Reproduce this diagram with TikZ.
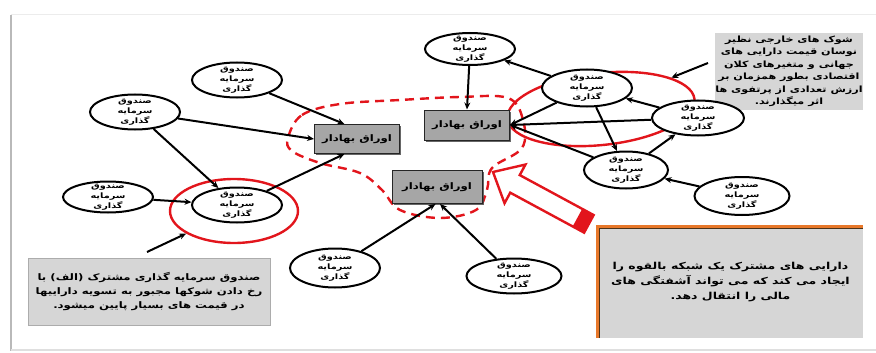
\documentclass[tikz,border=0pt]{standalone}
\usepackage{fontspec}
\usepackage{tikz}
\usetikzlibrary{arrows.meta,shapes.geometric,shadows}
\newfontfamily\fafont[Script=Arabic,FakeStretch=1.3]{DejaVu Sans}
\TeXXeTstate=1
\newcommand{\fa}[1]{\beginR #1\endR}
\newcommand{\fundtext}{\fa{صندوق}\\\fa{سرمایه}\\\fa{گذاری}}
\definecolor{ringred}{HTML}{E2151C}
\definecolor{notegray}{HTML}{D6D6D6}
\definecolor{edgeorange}{HTML}{E8782A}

\begin{document}
\begin{tikzpicture}
[x=1pt, y=-1pt,
 fund/.style={ellipse, draw, line width=2pt, fill=white, minimum width=90pt, minimum height=35pt, inner xsep=0pt, inner ysep=-4pt, align=center, font=\fafont\bfseries\fontsize{7.5}{10}\selectfont},
 sec/.style={rectangle, draw=black!85, line width=1pt, top color=gray!70, middle color=gray!40, bottom color=gray!70, minimum width=85pt, minimum height=29pt, font=\fafont\bfseries\fontsize{9}{10}\selectfont, drop shadow={shadow xshift=1.5pt, shadow yshift=-1.5pt, fill=black!75, opacity=.8}},
 ring/.style={ellipse, draw=ringred, line width=2.4pt, inner sep=0pt},
 note/.style={rectangle, fill=notegray, align=center, inner sep=0pt},
 link/.style={line width=2pt, -{Stealth[length=7pt,width=6pt]}}]

\useasboundingbox (0,0) rectangle (876,353);
\draw[gray!15, line width=1pt] (11,15) -- (876,15);
\draw[gray!55, line width=2pt] (11,15) -- (11,351);
\draw[gray!25, line width=1.5pt] (11,350) -- (876,350);

% red marks
\draw[ringred, line width=2.4pt, dash pattern=on 9pt off 6pt] plot[smooth cycle, tension=0.6] coordinates {(288,138) (302,115) (340,104) (400,100) (460,97) (508,98) (523,120) (522,148) (492,168) (487,190) (476,210) (440,218) (400,210) (382,190) (360,173) (320,163) (292,151)};
\node[ring, minimum width=128pt, minimum height=64pt] (ring1) at (234,211) {};
\node[ring, minimum width=188pt, minimum height=72pt, rotate=6] (ring2) at (601,109) {};
\begin{scope}[shift={(493,172)}, rotate=-28.4]
\draw[ringred, line width=2.4pt, fill=white, line join=miter] (0,0) -- (25,22) -- (25,10) -- (109,10) -- (109,-10) -- (25,-10) -- (25,-22) -- cycle;
\fill[ringred] (96,-10) rectangle (109,10);
\end{scope}

% notes
\node[note, minimum width=148pt, minimum height=77pt, font=\fafont\bfseries\fontsize{8.6}{12.5}\selectfont] (n1) at (789,71.5)
 {\fa{شوک های خارجی نظیر}\\\fa{نوسان قیمت دارایی های}\\\fa{جهانی و متغیرهای کلان}\\\fa{اقتصادی بطور همزمان بر}\\\fa{ارزش تعدادی از پرتفوی ها}\\\fa{اثر میگذارند.}};
\node[note, draw=gray!65, line width=1pt, minimum width=242pt, minimum height=67pt, font=\fafont\bfseries\fontsize{9}{14}\selectfont] (n2) at (149,291.5)
 {\fa{صندوق سرمایه گذاری مشترک (الف) با}\\\fa{رخ دادن شوکها مجبور به تسویه داراییها}\\\fa{در قیمت های بسیار پایین میشود.}};
\node[note, minimum width=265pt, minimum height=111pt, font=\fafont\bfseries\fontsize{9.6}{15}\selectfont] (n3) at (730.5,282.5)
 {\fa{دارایی های مشترک یک شبکه بالقوه را}\\\fa{ایجاد می کند که می تواند آشفتگی های}\\\fa{مالی را انتقال دهد.}};
\draw[edgeorange, line width=3pt] (n3.south west) -- (n3.north west) -- (n3.north east);
\draw[black!60!brown, line width=0.7pt] ([xshift=2pt]n3.south west) -- ([xshift=2pt,yshift=-2pt]n3.north west) -- ([yshift=-2pt]n3.north east);

% funds
\node[fund] (e1) at (135,112) {\fundtext};
\node[fund] (e2) at (237,80) {\fundtext};
\node[fund, minimum height=31pt] (e3) at (108,197) {\fundtext};
\node[fund] (e4) at (237,205) {\fundtext};
\node[fund, minimum height=32pt] (e5) at (470,49) {\fundtext};
\node[fund, minimum height=37pt] (e6) at (587,88) {\fundtext};
\node[fund, minimum width=92pt] (e7) at (698,118) {\fundtext};
\node[fund, minimum width=84pt, minimum height=37pt] (e8) at (626,170) {\fundtext};
\node[fund, minimum width=95pt, minimum height=38pt] (e9) at (742,196) {\fundtext};
\node[fund, minimum height=39pt] (e10) at (335,268) {\fundtext};
\node[fund, minimum width=95pt] (e11) at (514,276) {\fundtext};

% securities
\node[sec] (b1) at (357,139) {\fa{اوراق بهادار}};
\node[sec, minimum height=30pt] (b2) at (467,125) {\fa{اوراق بهادار}};
\node[sec, minimum width=90pt, minimum height=33pt] (b3) at (437,187) {\fa{اوراق بهادار}};

\foreach \from/\to in {e2/b1.130,e1/b1.west,e4/b1.230,e1/e4,e3/e4,e5/b2.north,e6/e5,e6/b2.east,e7/b2.east,e8/b2.east,e6/e8,e7/e6,e8/e7,e9/e8,e10/b3.265,e11/b3.280}
	\draw[link] (\from) -- (\to);

\coordinate (p1) at (147,252);
\coordinate (p2) at (708,63);
\draw[link] (p1) -- (ring1);
\draw[link] (p2) -- (ring2.18);

\end{tikzpicture}
\end{document}
